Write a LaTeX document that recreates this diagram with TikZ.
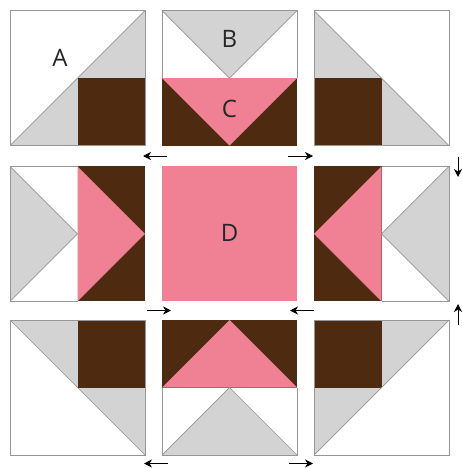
\documentclass[tikz,border=0pt]{standalone}
\usepackage{fontspec}
\setmainfont{Open Sans}
\usetikzlibrary{arrows.meta}
\definecolor{qpink}{RGB}{240,128,148}
\definecolor{qbrown}{RGB}{78,42,16}
\definecolor{qgray}{RGB}{211,211,211}
\definecolor{qline}{RGB}{150,150,150}
\tikzset{
  gr/.style={fill=qgray},
  br/.style={fill=qbrown},
  pk/.style={fill=qpink},
  seam/.style={draw=qline,line width=0.7pt},
  outline/.style={draw=qline,line width=0.8pt},
  arr/.style={-{Stealth[length=8pt,width=8pt,inset=2.5pt]},line width=1pt,black},
  lbl/.style={font=\fontsize{24}{24}\selectfont,text=black!85,inner sep=0pt}
}
\begin{document}
\begin{tikzpicture}[x=1pt,y=-1pt]
\useasboundingbox (0,0) rectangle (462,468);
\fill[white] (0,0) rectangle (462,468);
% ---- top-left block A
\begin{scope}[shift={(10,10.7)}]
  \fill[gr] (0,135)--(135,0)--(135,135)--cycle;
  \fill[br] (67.5,67.5) rectangle (135,135);
  \draw[seam] (0,135)--(135,0);
  \draw[outline] (0,0) rectangle (135,135);
\end{scope}
% ---- top-middle block B/C
\begin{scope}[shift={(162,10.7)}]
  \fill[gr] (0,0)--(135,0)--(67.5,67.5)--cycle;
  \fill[br] (0,67.5) rectangle (135,135);
  \fill[pk] (0,67.5)--(135,67.5)--(67.5,135)--cycle;
  \draw[seam] (0,0)--(67.5,67.5)--(135,0);
  \draw[outline] (0,67.5)--(0,0)--(135,0)--(135,67.5);
\end{scope}
% ---- top-right block
\begin{scope}[shift={(314,10.7)}]
  \fill[gr] (0,0)--(0,135)--(135,135)--cycle;
  \fill[br] (0,67.5) rectangle (67.5,135);
  \draw[seam] (0,0)--(135,135);
  \draw[outline] (0,0) rectangle (135,135);
\end{scope}
% ---- middle-left block
\begin{scope}[shift={(10,166.3)}]
  \fill[gr] (0,0)--(67.5,67.5)--(0,135)--cycle;
  \fill[br] (67.5,0) rectangle (135,135);
  \fill[pk] (67.5,0)--(135,67.5)--(67.5,135)--cycle;
  \draw[seam] (0,0)--(67.5,67.5)--(0,135);
  \draw[outline] (67.5,0)--(0,0)--(0,135)--(67.5,135);
\end{scope}
% ---- centre block D
\begin{scope}[shift={(162,166.3)}]
  \fill[pk] (0,0) rectangle (135,135);
\end{scope}
% ---- middle-right block
\begin{scope}[shift={(314,166.3)}]
  \fill[br] (0,0) rectangle (67.5,135);
  \fill[pk] (67.5,0)--(0,67.5)--(67.5,135)--cycle;
  \fill[gr] (135,0)--(67.5,67.5)--(135,135)--cycle;
  \draw[seam] (135,0)--(67.5,67.5)--(135,135);
  \draw[outline] (67.5,0)--(135,0)--(135,135)--(67.5,135);
\end{scope}
% ---- bottom-left block
\begin{scope}[shift={(10,320)}]
  \fill[gr] (0,0)--(135,0)--(135,135)--cycle;
  \fill[br] (67.5,0) rectangle (135,67.5);
  \draw[seam] (0,0)--(135,135);
  \draw[outline] (0,0) rectangle (135,135);
\end{scope}
% ---- bottom-middle block
\begin{scope}[shift={(162,320)}]
  \fill[br] (0,0) rectangle (135,67.5);
  \fill[pk] (0,67.5)--(67.5,0)--(135,67.5)--cycle;
  \fill[gr] (0,135)--(67.5,67.5)--(135,135)--cycle;
  \draw[seam] (0,135)--(67.5,67.5)--(135,135);
  \draw[outline] (0,67.5)--(0,135)--(135,135)--(135,67.5);
\end{scope}
% ---- bottom-right block
\begin{scope}[shift={(314,320)}]
  \fill[gr] (0,0)--(135,0)--(0,135)--cycle;
  \fill[br] (0,0) rectangle (67.5,67.5);
  \draw[seam] (0,135)--(135,0);
  \draw[outline] (0,0) rectangle (135,135);
\end{scope}
% ---- labels
\node[lbl] (lA) at (60,58) {A};
\node[lbl] (lB) at (229.5,39) {B};
\node[lbl] (lC) at (229.5,109) {C};
\node[lbl] (lD) at (229.5,233) {D};
% ---- pressing arrows
\coordinate (a1s) at (167,156); \coordinate (a1e) at (143,156);
\coordinate (a2s) at (288,156); \coordinate (a2e) at (313,156);
\coordinate (a3s) at (458,157); \coordinate (a3e) at (458,177);
\coordinate (a4s) at (147,310.5); \coordinate (a4e) at (171,310.5);
\coordinate (a5s) at (314,310.5); \coordinate (a5e) at (290,310.5);
\coordinate (a6s) at (458,325); \coordinate (a6e) at (458,304);
\coordinate (a7s) at (168,463.5); \coordinate (a7e) at (144,463.5);
\coordinate (a8s) at (289,463.5); \coordinate (a8e) at (313,463.5);
\draw[arr] (a1s) -- (a1e);
\draw[arr] (a2s) -- (a2e);
\draw[arr] (a3s) -- (a3e);
\draw[arr] (a4s) -- (a4e);
\draw[arr] (a5s) -- (a5e);
\draw[arr] (a6s) -- (a6e);
\draw[arr] (a7s) -- (a7e);
\draw[arr] (a8s) -- (a8e);
\end{tikzpicture}
\end{document}
